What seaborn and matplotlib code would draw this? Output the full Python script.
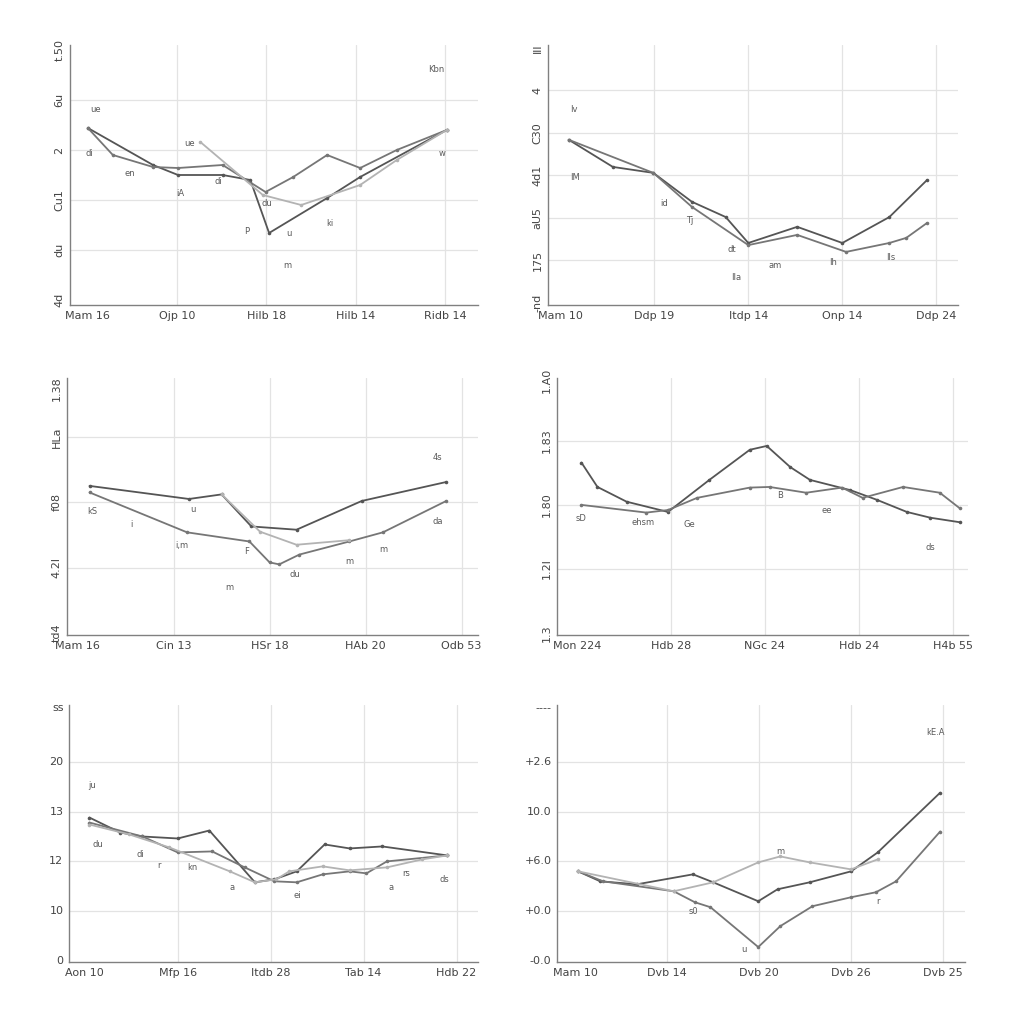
import seaborn as sns
import matplotlib.pyplot as plt
import pandas as pd

# panel 1 (top left)
p1_xlabels = ['Mam 16', 'Ojp 10', 'Hilb 18', 'Hilb 14', 'Ridb 14']
p1_ylabels = ['4d', 'du', 'Cu1', '2', '6u', 't.50']
p1_a_x = [0, 0.73, 1.01, 1.51, 1.82, 2.03, 2.68, 3.05, 4.02]
p1_a_y = [3.44, 2.7, 2.5, 2.5, 2.4, 1.34, 2.04, 2.46, 3.4]
p1_b_x = [0, 0.28, 0.73, 1.01, 1.51, 1.99, 2.30, 2.68, 3.05, 3.46, 4.02]
p1_b_y = [3.44, 2.9, 2.66, 2.64, 2.7, 2.16, 2.46, 2.9, 2.64, 3.0, 3.4]
p1_c_x = [1.26, 1.96, 2.39, 3.05, 3.46, 4.02]
p1_c_y = [3.16, 2.1, 1.9, 2.3, 2.8, 3.4]

# panel 2 (top right)
p2_xlabels = ['Mam 10', 'Ddp 19', 'Itdp 14', 'Onp 14', 'Ddp 24']
p2_ylabels = ['-nd', '175', 'aU5', '4d1', 'C30', '4', 'Ill']
p2_a_x = [0.09, 0.56, 0.99, 1.4, 1.76, 2.0, 2.52, 3.0, 3.5, 3.9]
p2_a_y = [3.84, 3.2, 3.06, 2.38, 2.02, 1.41, 1.79, 1.41, 2.02, 2.89]
p2_b_x = [0.09, 0.99, 1.4, 2.0, 2.52, 3.04, 3.5, 3.68, 3.9]
p2_b_y = [3.84, 3.06, 2.26, 1.36, 1.6, 1.2, 1.41, 1.53, 1.88]

# panel 3 (middle left)
p3_xlabels = ['Mam 16', 'Cin 13', 'HSr 18', 'HAb 20', 'Odb 53']
p3_ylabels = ['td4', '4.2l', 'f08', 'HLa', '1.38']
p3_a_x = [0.125, 1.16, 1.5, 1.81, 2.28, 2.96, 3.84]
p3_a_y = [2.25, 2.05, 2.12, 1.63, 1.58, 2.02, 2.31]
p3_b_x = [0.125, 1.14, 1.79, 2.0, 2.1, 2.31, 2.83, 3.18, 3.84]
p3_b_y = [2.15, 1.54, 1.4, 1.08, 1.05, 1.2, 1.4, 1.54, 2.02]
p3_c_x = [1.5, 1.9, 2.28, 2.83]
p3_c_y = [2.12, 1.55, 1.35, 1.42]

# panel 4 (middle right)
p4_xlabels = ['Mon 224', 'Hdb 28', 'NGc 24', 'Hdb 24', 'H4b 55']
p4_ylabels = ['1.3', '1.2l', '1.80', '1.83', '1.A0']
p4_a_x = [0.05, 0.22, 0.53, 0.97, 1.41, 1.84, 2.02, 2.27, 2.48, 2.91, 3.19, 3.51, 3.76, 4.07]
p4_a_y = [2.66, 2.28, 2.05, 1.89, 2.39, 2.86, 2.92, 2.59, 2.39, 2.23, 2.08, 1.89, 1.80, 1.73]
p4_b_x = [0.05, 0.74, 0.97, 1.28, 1.84, 2.05, 2.44, 2.82, 3.04, 3.47, 3.86, 4.07]
p4_b_y = [2.0, 1.88, 1.92, 2.11, 2.27, 2.28, 2.19, 2.27, 2.11, 2.28, 2.19, 1.95]

# panel 5 (bottom left)
p5_xlabels = ['Aon 10', 'Mfp 16', 'Itdb 28', 'Tab 14', 'Hdb 22']
p5_ylabels = ['0', '10', '12', '13', '20', 'ss']
p5_a_x = [0.05, 0.38, 0.62, 1.0, 1.34, 1.83, 2.04, 2.28, 2.58, 2.85, 3.2, 3.9]
p5_a_y = [2.88, 2.58, 2.5, 2.46, 2.62, 1.58, 1.64, 1.8, 2.34, 2.26, 2.3, 2.12]
p5_b_x = [0.05, 0.62, 1.0, 1.37, 1.72, 2.04, 2.28, 2.56, 2.85, 3.03, 3.25, 3.9]
p5_b_y = [2.78, 2.5, 2.18, 2.2, 1.88, 1.6, 1.58, 1.74, 1.8, 1.76, 2.0, 2.12]
p5_c_x = [0.05, 0.48, 0.91, 1.56, 1.83, 2.06, 2.2, 2.56, 2.85, 3.25, 3.63, 3.9]
p5_c_y = [2.74, 2.54, 2.28, 1.8, 1.58, 1.64, 1.8, 1.9, 1.82, 1.88, 2.04, 2.12]

# panel 6 (bottom right)
p6_xlabels = ['Mam 10', 'Dvb 14', 'Dvb 20', 'Dvb 26', 'Dvb 25']
p6_ylabels = ['-0.0', '+0.0', '+6.0', '10.0', '+2.6', '----']
p6_a_x = [0.03, 0.27, 0.67, 1.28, 1.5, 1.99, 2.2, 2.55, 3.0, 3.29, 3.97]
p6_a_y = [1.8, 1.6, 1.54, 1.74, 1.58, 1.2, 1.44, 1.58, 1.8, 2.18, 3.38]
p6_b_x = [0.03, 0.3, 1.07, 1.30, 1.47, 1.99, 2.23, 2.58, 3.0, 3.27, 3.49, 3.97]
p6_b_y = [1.8, 1.6, 1.4, 1.18, 1.08, 0.28, 0.7, 1.1, 1.28, 1.38, 1.6, 2.6]
p6_c_x = [0.03, 1.07, 1.5, 1.99, 2.23, 2.55, 3.0, 3.29]
p6_c_y = [1.8, 1.4, 1.58, 1.98, 2.1, 1.98, 1.84, 2.04]

# little point labels scattered around the lines
p1_notes = [(0.09, 3.82, 'ue'), (0.02, 2.94, 'di'), (0.47, 2.54, 'en'), (1.04, 2.14, 'iA'),
            (1.14, 3.14, 'ue'), (1.46, 2.36, 'di'), (2.0, 1.94, 'du'), (1.78, 1.36, 'P'),
            (2.25, 1.34, 'u'), (2.23, 0.68, 'm'), (2.71, 1.54, 'ki'), (3.97, 2.94, 'w'),
            (3.9, 4.62, 'Kbn')]
p2_notes = [(0.15, 4.54, 'Iv'), (0.16, 2.94, 'IM'), (1.1, 2.33, 'id'), (1.38, 1.95, 'Tj'),
            (1.83, 1.25, 'dt'), (1.87, 0.59, 'IIa'), (2.29, 0.89, 'am'), (2.9, 0.94, 'Ih'),
            (3.51, 1.06, 'Ils')]
p3_notes = [(0.15, 1.86, 'kS'), (0.56, 1.66, 'i'), (1.09, 1.34, 'i,m'), (1.2, 1.89, 'u'),
            (1.58, 0.69, 'm'), (1.76, 1.25, 'F'), (2.26, 0.89, 'du'), (2.83, 1.09, 'm'),
            (3.18, 1.28, 'm'), (3.75, 2.69, '4s'), (3.75, 1.71, 'da')]
p4_notes = [(0.05, 1.78, 'sD'), (0.7, 1.72, 'ehsm'), (1.2, 1.69, 'Ge'), (2.16, 2.14, 'B'),
            (2.66, 1.92, 'ee'), (3.76, 1.34, 'ds')]
p5_notes = [(0.08, 3.52, 'ju'), (0.14, 2.34, 'du'), (0.6, 2.14, 'di'), (0.8, 1.92, 'r'),
            (1.16, 1.88, 'kn'), (1.58, 1.48, 'a'), (2.29, 1.32, 'ei'), (3.3, 1.48, 'a'),
            (3.46, 1.76, 'rs'), (3.87, 1.64, 'ds')]
p6_notes = [(2.23, 2.2, 'm'), (3.92, 4.58, 'kE.A'), (1.28, 1.0, 's0'), (1.83, 0.24, 'u'),
            (3.29, 1.2, 'r')]

sns.set_theme(style="whitegrid")
plt.rcParams.update({"grid.color": "#e3e3e3", "grid.linewidth": 0.9})

fig = plt.figure(figsize=(10.24, 10.24), dpi=100)
W = 1024.0


def make_axes(left, right, top, bottom):
    return fig.add_axes([left / W, 1 - bottom / W, (right - left) / W, (bottom - top) / W])


def draw(ax, series, xlabels, yticks, ylabels, xlim, ylim, notes, yrot):
    frames = []
    for name, xs, ys in series:
        frames.append(pd.DataFrame({'x': xs, 'y': ys, 's': name}))
    df = pd.concat(frames, ignore_index=True)
    names = [s[0] for s in series]
    pal = dict(zip(names, ['#555555', '#767676', '#b3b3b3'][:len(names)]))
    sns.lineplot(data=df, x='x', y='y', hue='s', palette=pal, estimator=None, sort=False,
                 marker='o', markersize=2.6, markeredgewidth=0, linewidth=1.3,
                 legend=False, ax=ax)
    ax.set_xlim(*xlim)
    ax.set_ylim(*ylim)
    ax.set_xticks(range(len(xlabels)))
    ax.set_xticklabels(xlabels, fontsize=8, color='#444444')
    ax.set_yticks(yticks)
    ax.set_yticklabels(ylabels, fontsize=8, color='#444444', rotation=yrot, va='center')
    ax.set_xlabel('')
    ax.set_ylabel('')
    ax.tick_params(length=0, pad=4)
    ax.get_ygridlines()[-1].set_visible(False)
    ax.get_ygridlines()[0].set_visible(False)
    ax.get_xgridlines()[0].set_visible(False)
    for side in ['top', 'right']:
        ax.spines[side].set_visible(False)
    for side in ['left', 'bottom']:
        ax.spines[side].set_color('#808080')
        ax.spines[side].set_linewidth(1.0)
    for x, y, t in notes:
        ax.text(x, y, t, fontsize=6, color='#5a5a5a', ha='center', va='center')


ax1 = make_axes(70, 478, 45, 305)
draw(ax1, [('a', p1_a_x, p1_a_y), ('b', p1_b_x, p1_b_y), ('c', p1_c_x, p1_c_y)],
     p1_xlabels, [0, 1, 2, 3, 4, 5], p1_ylabels, (-0.2, 4.37), (-0.1, 5.1), p1_notes, 90)

ax2 = make_axes(548, 958, 45, 305)
draw(ax2, [('a', p2_a_x, p2_a_y), ('b', p2_b_x, p2_b_y)],
     p2_xlabels, [0, 1, 2, 3, 4, 5, 6], p2_ylabels, (-0.13, 4.23), (-0.05, 6.07), p2_notes, 90)

ax3 = make_axes(67, 478, 378, 635)
draw(ax3, [('a', p3_a_x, p3_a_y), ('b', p3_b_x, p3_b_y), ('c', p3_c_x, p3_c_y)],
     p3_xlabels, [0, 1, 2, 3, 3.74], p3_ylabels, (-0.11, 4.17), (-0.03, 3.9), p3_notes, 90)

ax4 = make_axes(557, 968, 378, 635)
draw(ax4, [('a', p4_a_x, p4_a_y), ('b', p4_b_x, p4_b_y)],
     p4_xlabels, [0, 1, 2, 3, 3.95], p4_ylabels, (-0.21, 4.16), (-0.03, 3.98), p4_notes, 90)

ax5 = make_axes(69, 478, 705, 962)
draw(ax5, [('a', p5_a_x, p5_a_y), ('b', p5_b_x, p5_b_y), ('c', p5_c_x, p5_c_y)],
     p5_xlabels, [0, 1, 2, 3, 4, 5.08], p5_ylabels, (-0.17, 4.23), (-0.02, 5.14), p5_notes, 0)

ax6 = make_axes(557, 965, 705, 962)
draw(ax6, [('a', p6_a_x, p6_a_y), ('b', p6_b_x, p6_b_y), ('c', p6_c_x, p6_c_y)],
     p6_xlabels, [0, 1, 2, 3, 4, 5.08], p6_ylabels, (-0.2, 4.24), (-0.02, 5.14), p6_notes, 0)

plt.savefig('out.png', dpi=100, facecolor='white')
